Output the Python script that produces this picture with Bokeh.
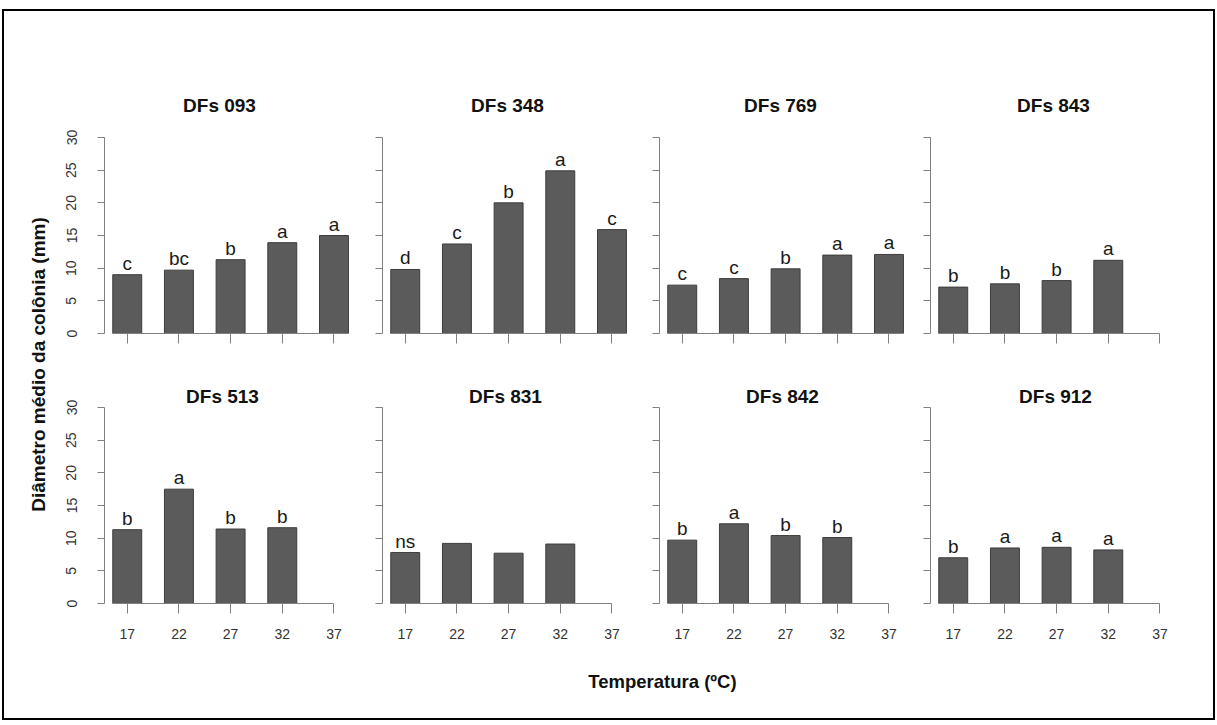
from bokeh.plotting import figure
from bokeh.models import Range1d, FixedTicker, Label, Spacer
from bokeh.layouts import row, column
from bokeh.embed import file_html
from bokeh.resources import INLINE
from bokeh.core.properties import value
import math

# ---------------- data ----------------
temps = [17, 22, 27, 32, 37]
x_ticks = [17, 22, 27, 32, 37]
y_ticks = [0, 5, 10, 15, 20, 25, 30]

titles = ["DFs 093", "DFs 348", "DFs 769", "DFs 843",
          "DFs 513", "DFs 831", "DFs 842", "DFs 912"]

dfs093 = [9.0, 9.7, 11.3, 13.9, 15.0]
dfs093_letters = ["c", "bc", "b", "a", "a"]
dfs348 = [9.8, 13.7, 20.0, 24.9, 15.9]
dfs348_letters = ["d", "c", "b", "a", "c"]
dfs769 = [7.4, 8.4, 9.9, 12.0, 12.1]
dfs769_letters = ["c", "c", "b", "a", "a"]
dfs843 = [7.1, 7.6, 8.1, 11.2]
dfs843_letters = ["b", "b", "b", "a"]
dfs513 = [11.3, 17.5, 11.4, 11.6]
dfs513_letters = ["b", "a", "b", "b"]
dfs831 = [7.8, 9.2, 7.7, 9.1]
dfs831_letters = ["ns", "", "", ""]
dfs842 = [9.7, 12.2, 10.4, 10.1]
dfs842_letters = ["b", "a", "b", "b"]
dfs912 = [7.0, 8.5, 8.6, 8.2]
dfs912_letters = ["b", "a", "a", "a"]

series = [dfs093, dfs348, dfs769, dfs843, dfs513, dfs831, dfs842, dfs912]
letters = [dfs093_letters, dfs348_letters, dfs769_letters, dfs843_letters,
           dfs513_letters, dfs831_letters, dfs842_letters, dfs912_letters]

y_label = "Diâmetro médio da colônia (mm)"
x_label = "Temperatura (ºC)"

# ---------------- style / layout ----------------
FONT = "Liberation Sans"
BAR_W = 2.8
X0, X1 = 14.8, 38.6
Y_MAX = 30.0
FRAME_W = 246
PLOT_H = 196            # pixel height of the 0..30 span
AXIS_COL = "#808080"
col_widths = [306, 277, 271, 303]
col_left = [48, 20, 20, 20]
title_dx = [[115, 125, 121, 123], [118, 123, 123, 125]]   # px from axis
row_h = [351, 298]
row_mb30 = [126, 45]               # row top -> line of 30
x_standoff = [0, 15]
EXT = [48, 26]                     # frame extension above 30 (room for title)
TITLE_GAP = [32, 11]               # title centre above the 30 line


def panel(i, r, c):
    vals = series[i]
    n = len(vals)
    xs = temps[:n]
    width = col_widths[c]
    height = row_h[r]
    mb_left = col_left[c]
    ext = EXT[r]
    px_per_x = FRAME_W / (X1 - X0)
    px_per_y = PLOT_H / Y_MAX
    frame_h = PLOT_H + ext
    mb_top = row_mb30[r] - ext
    p = figure(width=width, height=height,
               x_range=Range1d(X0, X1), y_range=Range1d(0, Y_MAX + ext / px_per_y),
               min_border_left=mb_left, min_border_right=width - mb_left - FRAME_W,
               min_border_top=mb_top, min_border_bottom=height - mb_top - frame_h,
               output_backend="svg", toolbar_location=None)
    p.outline_line_color = None
    p.xgrid.visible = False
    p.ygrid.visible = False

    p.vbar(x=xs, top=vals, bottom=0, width=BAR_W,
           fill_color="#5b5b5b", line_color="#3d3d3d", line_width=1)

    lx = [x for x, t in zip(xs, letters[i]) if t]
    ly = [v for v, t in zip(vals, letters[i]) if t]
    lt = [t for t in letters[i] if t]
    p.text(x=lx, y=ly, text=lt, text_align="center", text_baseline="bottom",
           y_offset=-1, text_font=value(FONT), text_font_size=value("19px"),
           text_color="#1a1a1a")

    p.add_layout(Label(x=X0 + title_dx[r][c] / px_per_x,
                       y=Y_MAX + TITLE_GAP[r] / px_per_y,
                       text=titles[i], text_align="center", text_baseline="middle",
                       text_font=FONT, text_font_size="19px", text_font_style="bold",
                       text_color="#111111"))

    xa = p.xaxis[0]
    xa.ticker = FixedTicker(ticks=x_ticks)
    xa.bounds = (xs[0] - BAR_W / 2, max(x_ticks[-1], xs[-1] + BAR_W / 2))
    xa.axis_line_color = AXIS_COL
    xa.major_tick_line_color = AXIS_COL
    xa.minor_tick_line_color = None
    xa.major_tick_out = 10
    xa.major_tick_in = 0
    xa.major_label_text_font = FONT
    xa.major_label_text_color = "#333333"
    xa.major_label_text_font_size = "14px"
    xa.major_label_standoff = x_standoff[r]
    if r == 0:
        xa.major_label_overrides = {t: "" for t in x_ticks}

    ya = p.yaxis[0]
    ya.ticker = FixedTicker(ticks=y_ticks)
    ya.bounds = (0, Y_MAX)
    ya.axis_line_color = AXIS_COL
    ya.major_tick_line_color = AXIS_COL
    ya.minor_tick_line_color = None
    ya.major_tick_out = 7
    ya.major_tick_in = 0
    ya.major_label_text_font = FONT
    ya.major_label_text_color = "#333333"
    ya.major_label_orientation = "vertical"
    ya.major_label_text_font_size = "14px"
    if c == 0:
        ya.major_label_standoff = 21
    else:
        ya.major_label_overrides = {t: "" for t in y_ticks}
        ya.major_label_standoff = 0
    return p


top = [panel(c, 0, c) for c in range(4)]
bottom = [panel(4 + c, 1, c) for c in range(4)]

# y label column
YL_W, YL_H = 52, 707
ylab = figure(width=YL_W, height=YL_H, x_range=Range1d(0, YL_W), y_range=Range1d(0, YL_H),
              min_border=0, x_axis_location=None, y_axis_location=None,
              output_backend="svg", toolbar_location=None)
ylab.outline_line_color = None
ylab.grid.visible = False
ylab.add_layout(Label(x=34, y=354, text=y_label, angle=math.pi / 2,
                      text_align="center", text_baseline="middle",
                      text_font=FONT, text_font_size="19px", text_font_style="bold",
                      text_color="#111111"))

# x label strip
XL_W, XL_H = 1157, 58
xlab = figure(width=XL_W, height=XL_H, x_range=Range1d(0, XL_W), y_range=Range1d(0, XL_H),
              min_border=0, x_axis_location=None, y_axis_location=None,
              output_backend="svg", toolbar_location=None)
xlab.outline_line_color = None
xlab.grid.visible = False
xlab.add_layout(Label(x=606, y=37, text=x_label,
                      text_align="center", text_baseline="middle",
                      text_font=FONT, text_font_size="18.5px", text_font_style="bold",
                      text_color="#111111"))

inner = row(ylab, column(row(*top), row(*bottom), xlab),
            styles={"outline": "2px solid black"})
layout = column(Spacer(width=10, height=11), row(Spacer(width=4, height=10), inner))

open("out.html", "w").write(file_html(layout, INLINE))
